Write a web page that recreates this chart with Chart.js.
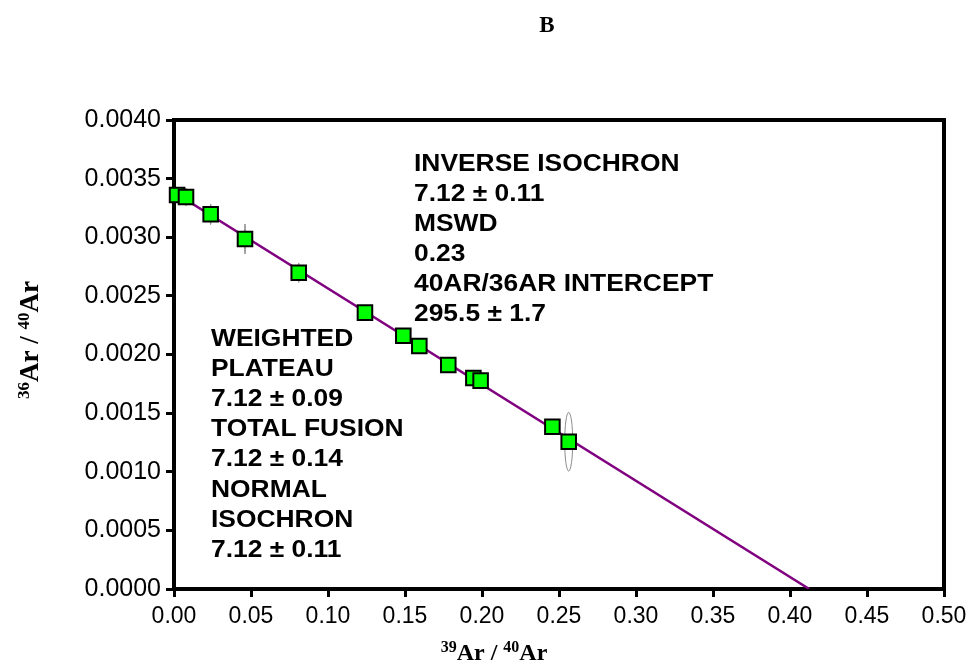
<!DOCTYPE html>
<html><head><meta charset="utf-8">
<script src="https://cdn.jsdelivr.net/npm/chart.js@4.4.0/dist/chart.umd.min.js"></script>
<style>html,body{margin:0;padding:0;background:#fff;} #c{display:block;}</style>
</head><body>
<canvas id="c" width="973" height="667"></canvas>
<script>
// ---- data ----
const ratio39_40 = [0.002, 0.0078, 0.0238, 0.0461, 0.0810, 0.1240, 0.1489, 0.1593, 0.1781, 0.1944, 0.1991, 0.2457, 0.2563];
const ratio36_40 = [0.003360, 0.003343, 0.003196, 0.002985, 0.002698, 0.002357, 0.002160, 0.002073, 0.001910, 0.001800, 0.001777, 0.001384, 0.001256];
const err36_40 = [0.00006, 0.000077, 0.000088, 0.000128, 0.000083, 0.00005, 0.00005, 0.00005, 0.00005, 0.00005, 0.00005, 0.00005, 0.00025];
const err39_40 = [0.0003, 0.0003, 0.0003, 0.0003, 0.0003, 0.0003, 0.0003, 0.0003, 0.0003, 0.0003, 0.0003, 0.0003, 0.0026];
const fitX = [0, 0.4125];
const fitY = [0.003384, 0];
const xTickLabels = ['0.00','0.05','0.10','0.15','0.20','0.25','0.30','0.35','0.40','0.45','0.50'];
const yTickLabels = ['0.0000','0.0005','0.0010','0.0015','0.0020','0.0025','0.0030','0.0035','0.0040'];
const chartTitle = 'B';
const leftNotes = ['WEIGHTED','PLATEAU','7.12 \u00B1 0.09','TOTAL FUSION','7.12 \u00B1 0.14','NORMAL','ISOCHRON','7.12 \u00B1 0.11'];
const rightNotes = ['INVERSE ISOCHRON','7.12 \u00B1 0.11','MSWD','0.23','40AR/36AR INTERCEPT','295.5 \u00B1 1.7'];
const yTitleParts = [['36', true], ['Ar / ', false], ['40', true], ['Ar', false]];
const xTitleParts = [['39', true], ['Ar / ', false], ['40', true], ['Ar', false]];

const pts = ratio39_40.map((x, i) => ({x: x, y: ratio36_40[i]}));
const fitPts = fitX.map((x, i) => ({x: x, y: fitY[i]}));

function drawParts(ctx, parts, cx, cy, big, small, rise) {
  let total = 0;
  parts.forEach(([t, sup]) => { ctx.font = 'bold ' + (sup ? small : big) + 'px "Liberation Serif"'; total += ctx.measureText(t).width; });
  let x = cx - total / 2;
  ctx.textAlign = 'left';
  ctx.textBaseline = 'alphabetic';
  parts.forEach(([t, sup]) => {
    ctx.font = 'bold ' + (sup ? small : big) + 'px "Liberation Serif"';
    ctx.fillText(t, x, sup ? cy - rise : cy);
    x += ctx.measureText(t).width;
  });
}

function drawStretched(ctx, text, x, y, sx) {
  ctx.save();
  ctx.translate(x, y);
  ctx.scale(sx, 1);
  ctx.fillText(text, 0, 0);
  ctx.restore();
}

const decor = {
  id: 'decor',
  beforeDatasetsDraw(chart) {
    const ctx = chart.ctx, xs = chart.scales.x, ys = chart.scales.y;
    ctx.save();
    ctx.strokeStyle = '#8c8c8c';
    ctx.lineWidth = 1;
    ratio39_40.forEach((x, i) => {
      const cx = xs.getPixelForValue(x), cy = ys.getPixelForValue(ratio36_40[i]);
      const rx = Math.abs(xs.getPixelForValue(x + err39_40[i]) - cx);
      const ry = Math.abs(ys.getPixelForValue(ratio36_40[i] + err36_40[i]) - cy);
      ctx.beginPath();
      ctx.ellipse(cx, cy, Math.max(rx, 0.5), ry, 0, 0, Math.PI * 2);
      ctx.stroke();
    });
    ctx.restore();
  },
  afterDraw(chart) {
    const ctx = chart.ctx, a = chart.chartArea;
    ctx.save();
    ctx.strokeStyle = '#000';
    ctx.lineWidth = 4;
    ctx.beginPath();
    ctx.moveTo(a.left - 2, a.top);
    ctx.lineTo(a.right, a.top);
    ctx.lineTo(a.right, a.bottom + 2);
    ctx.stroke();
    ctx.fillStyle = '#000';
    ctx.font = 'bold 23px "Liberation Serif"';
    ctx.textAlign = 'center';
    ctx.textBaseline = 'middle';
    ctx.fillText(chartTitle, 547, 26);
    ctx.font = 'bold 24px "Liberation Sans"';
    ctx.textAlign = 'left';
    ctx.textBaseline = 'middle';
    leftNotes.forEach((t, i) => drawStretched(ctx, t, 211, 339 + i * 30.2, 1.1));
    rightNotes.forEach((t, i) => drawStretched(ctx, t, 414, 164 + i * 30, 1.1));
    drawParts(ctx, xTitleParts, 494, 660, 24, 16, 8);
    ctx.save();
    ctx.translate(38, 340);
    ctx.rotate(-Math.PI / 2);
    drawParts(ctx, yTitleParts, 0, 0, 27, 17, 9);
    ctx.restore();
    ctx.restore();
  }
};

new Chart(document.getElementById('c'), {
  type: 'scatter',
  data: {
    datasets: [
      { type: 'scatter', data: pts, pointStyle: 'rect', pointRadius: 10.3, pointHoverRadius: 10.3,
        backgroundColor: '#00FF00', borderColor: '#000', borderWidth: 2, order: 1, clip: false },
      { type: 'line', data: fitPts, borderColor: '#800080', borderWidth: 2.5, pointRadius: 0,
        fill: false, tension: 0, order: 2 }
    ]
  },
  options: {
    responsive: false, animation: false, devicePixelRatio: 1,
    layout: { padding: { top: 120, right: 29, left: 0, bottom: 0 } },
    plugins: { legend: { display: false }, tooltip: { enabled: false }, title: { display: false } },
    scales: {
      x: {
        type: 'linear', min: 0, max: 0.5,
        ticks: { stepSize: 0.05, color: '#000', padding: 6, maxRotation: 0,
          font: { family: 'Liberation Sans', size: 23 },
          callback: (v) => xTickLabels[Math.round(v / 0.05)] },
        grid: { drawOnChartArea: false, drawTicks: true, tickLength: 8, color: '#000', lineWidth: 3 },
        border: { display: true, color: '#000', width: 4 },
        afterFit(s) { s.height = 78; }
      },
      y: {
        type: 'linear', min: 0, max: 0.004,
        ticks: { stepSize: 0.0005, color: '#000', padding: 5,
          font: { family: 'Liberation Sans', size: 25 },
          callback: (v) => yTickLabels[Math.round(v / 0.0005)] },
        grid: { drawOnChartArea: false, drawTicks: true, tickLength: 8, color: '#000', lineWidth: 3 },
        border: { display: true, color: '#000', width: 4 },
        afterFit(s) { s.width = 174; }
      }
    }
  },
  plugins: [decor]
});
</script>
</body></html>
